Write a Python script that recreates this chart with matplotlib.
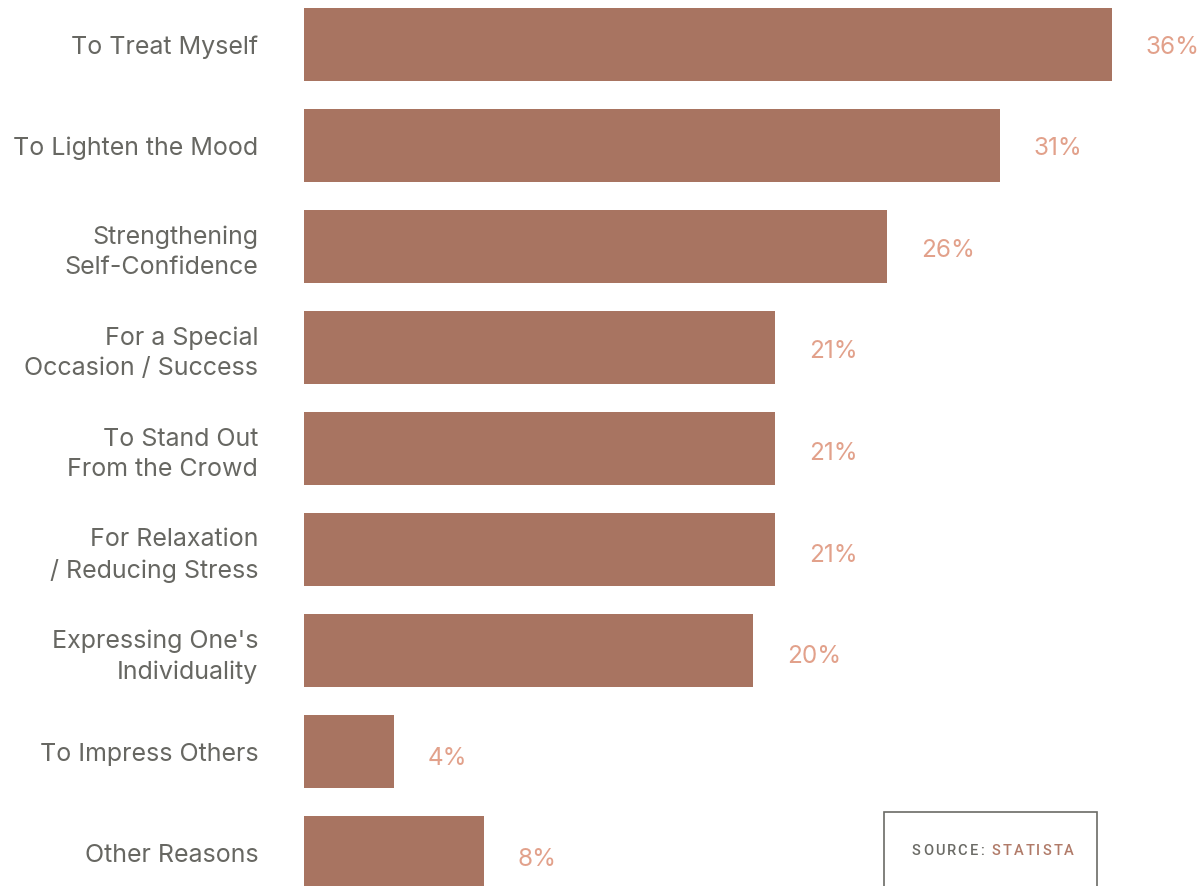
import matplotlib.pyplot as plt
from matplotlib.patches import Rectangle

categories = ["To Treat Myself", "To Lighten the Mood", "Strengthening\nSelf-Confidence",
              "For a Special\nOccasion / Success", "To Stand Out\nFrom the Crowd",
              "For Relaxation\n/ Reducing Stress", "Expressing One's\nIndividuality",
              "To Impress Others", "Other Reasons"]
values = [36, 31, 26, 21, 21, 21, 20, 4, 8]
value_labels = ["36%", "31%", "26%", "21%", "21%", "21%", "20%", "4%", "8%"]

bar_color = "#a87461"
label_color = "#e2a18b"
text_color = "#676762"

plt.rcParams['font.family'] = ['Inter', 'DejaVu Sans']

W, H = 1204, 886
fig = plt.figure(figsize=(W / 100, H / 100), dpi=100)
ax = fig.add_axes([304 / W, 0, 897.6 / W, 1])

y = list(range(len(values)))
ax.barh(y, values, height=73 / 101, color=bar_color)
ax.set_xlim(0, 40)
ax.set_ylim((H - 44.5) / 101, -44.5 / 101)

for i, (v, lab) in enumerate(zip(values, value_labels)):
    ax.annotate(lab, (v, i), xytext=(34, -2.5 - 0.6 * i), textcoords='offset pixels',
                ha='left', va='center', fontsize=17.5, color=label_color)

ax.set_yticks(y)
ax.set_yticklabels(categories, fontsize=18, color=text_color, linespacing=1.4)
for t in ax.get_yticklabels():
    t.set_y(t.get_position()[1])
ax.tick_params(axis='y', length=0, pad=33)
ax.set_xticks([])
for s in ax.spines.values():
    s.set_visible(False)

# source box
fig.patches.append(Rectangle((884 / W, -0.01), 213 / W, (H - 812) / H + 0.01,
                             transform=fig.transFigure, fill=False,
                             edgecolor="#6b6b66", linewidth=1.2))

# letter-spaced source text, laid out char by char
src = [("SOURCE:", "#6b6b66"), (" ", "#6b6b66"), ("STATISTA", "#b07a68")]
chars = [(c, col) for part, col in src for c in part]
renderer = fig.canvas.get_renderer()
widths = []
for c, col in chars:
    t = fig.text(0, 0, c if c != " " else "n", fontsize=10.5, fontweight='medium',
                 family=['Roboto', 'DejaVu Sans'])
    widths.append(t.get_window_extent(renderer).width * (0.5 if c == " " else 1))
    t.remove()
spacing = (162 - sum(widths)) / (len(chars) - 1)
x = 912
for (c, col), w in zip(chars, widths):
    if c != " ":
        fig.text(x / W, 1 - 851 / H, c, fontsize=10.5, color=col, fontweight='medium',
                 family=['Roboto', 'DejaVu Sans'], va='center', ha='left')
    x += w + spacing

fig.savefig("out.png", dpi=100)
